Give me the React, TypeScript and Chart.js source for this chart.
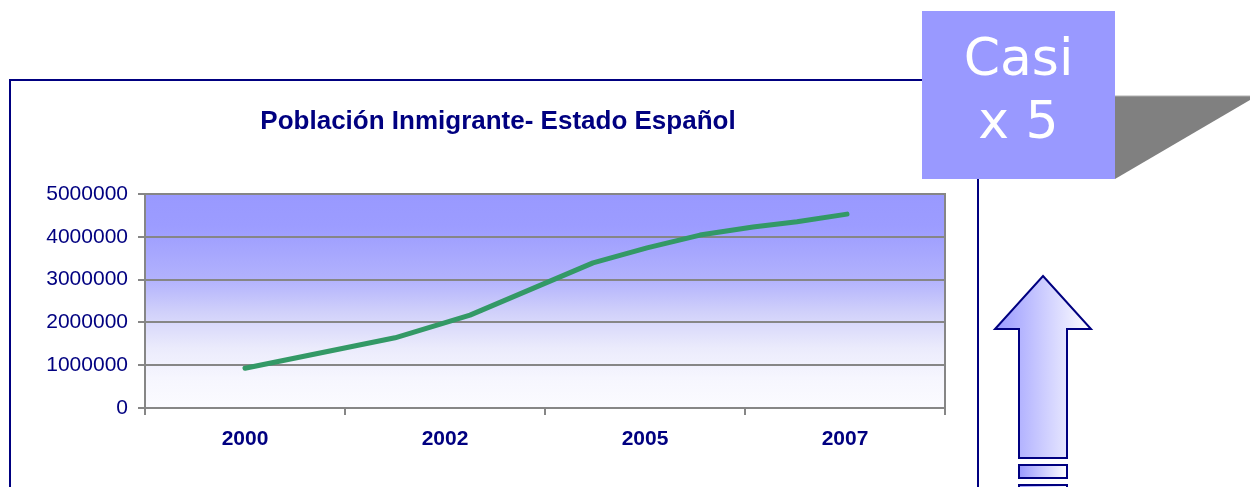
import { useEffect, useRef } from "react";
import { Chart, registerables } from "chart.js";

Chart.register(...registerables);

const categories = ["2000", "2002", "2005", "2007"];
const pointPositions = [0, 0.75, 1.125, 1.74, 2.01, 2.275, 2.54, 2.76, 3.01];
const population = [930000, 1640000, 2170000, 3390000, 3740000, 4040000, 4230000, 4350000, 4530000];
const yTicks = [0, 1000000, 2000000, 3000000, 4000000, 5000000];
const titleText = "Población Inmigrante- Estado Español";
const calloutLines = ["Casi", "x 5"];

const NAVY = "#000080";
const GRID = "#868686";
const FONT = "'Liberation Sans', Arial, sans-serif";

const plotBg = {
  id: "plotBg",
  beforeDraw(chart: any) {
    const { ctx, chartArea: a } = chart;
    if (!a) return;
    const g = ctx.createLinearGradient(0, a.top, 0, a.bottom);
    g.addColorStop(0, "#9999ff");
    g.addColorStop(0.15, "#9c9cff");
    g.addColorStop(0.4, "#b2b2fd");
    g.addColorStop(0.55, "#d0d0fa");
    g.addColorStop(0.72, "#ebebfc");
    g.addColorStop(0.86, "#f6f6fe");
    g.addColorStop(1, "#fbfbff");
    ctx.save();
    ctx.fillStyle = g;
    ctx.fillRect(a.left, a.top, a.right - a.left, a.bottom - a.top);
    ctx.restore();
  },
};

export default function App() {
  const ref = useRef<HTMLCanvasElement | null>(null);

  useEffect(() => {
    if (!ref.current) return;
    const chart = new Chart(ref.current, {
      type: "line",
      data: {
        labels: categories,
        datasets: [
          {
            data: pointPositions.map((x, i) => ({ x, y: population[i] })),
            xAxisID: "xl",
            yAxisID: "y",
            borderColor: "#339966",
            borderWidth: 5,
            borderCapStyle: "round",
            borderJoinStyle: "round",
            pointRadius: 0,
            tension: 0,
            fill: false,
          },
        ],
      },
      options: {
        animation: false,
        responsive: true,
        maintainAspectRatio: false,
        layout: { padding: 0 },
        plugins: {
          legend: { display: false },
          tooltip: { enabled: false },
          title: {
            display: true,
            text: titleText,
            color: NAVY,
            font: { family: FONT, size: 26, weight: "bold" },
            padding: { top: 26.4, bottom: 56.4 },
          },
        },
        scales: {
          x: {
            type: "category",
            position: "bottom",
            offset: true,
            grid: {
              offset: true,
              drawOnChartArea: false,
              drawTicks: true,
              tickLength: 7,
              color: GRID,
              lineWidth: 2,
            },
            border: { display: true, color: GRID, width: 2 },
            ticks: {
              color: NAVY,
              font: { family: FONT, size: 21, weight: "bold" },
              padding: 12,
              maxRotation: 0,
              autoSkip: false,
            },
            afterFit: (s: any) => {
              s.height = 79;
            },
          },
          xl: {
            type: "linear",
            display: false,
            min: -0.5,
            max: 3.5,
          },
          y: {
            type: "linear",
            position: "left",
            min: yTicks[0],
            max: yTicks[yTicks.length - 1],
            afterBuildTicks: (s: any) => {
              s.ticks = yTicks.map((v) => ({ value: v }));
            },
            grid: { color: GRID, lineWidth: 2, tickLength: 7 },
            border: { display: true, color: GRID, width: 2 },
            ticks: {
              color: NAVY,
              font: { family: FONT, size: 21 },
              padding: 10,
              callback: (v: any) => String(v),
            },
            afterFit: (s: any) => {
              s.width = 135;
            },
          },
          yr: {
            type: "linear",
            position: "right",
            grid: { display: false },
            ticks: { display: false },
            border: { display: true, color: GRID, width: 2 },
            afterFit: (s: any) => {
              s.width = 41;
            },
          },
        },
      },
      plugins: [plotBg],
    } as any);
    return () => chart.destroy();
  }, []);

  return (
    <div
      style={{
        position: "fixed",
        left: 0,
        top: 0,
        width: 1250,
        height: 487,
        overflow: "hidden",
        background: "#ffffff",
      }}
    >
      <div
        style={{
          position: "absolute",
          left: 9,
          top: 79,
          width: 970,
          height: 500,
          boxSizing: "border-box",
          border: `2px solid ${NAVY}`,
        }}
      />
      <div style={{ position: "absolute", left: 10, top: 80, width: 976, height: 407 }}>
        <canvas ref={ref} />
      </div>
      <svg
        width={1250}
        height={487}
        style={{ position: "absolute", left: 0, top: 0, pointerEvents: "none" }}
      >
        <defs>
          <linearGradient id="arrowGrad" x1="0" y1="0" x2="1" y2="0">
            <stop offset="0" stopColor="#9999ff" />
            <stop offset="1" stopColor="#ffffff" />
          </linearGradient>
        </defs>
        <polygon points="1115,96 1250,96 1250,100 1115,179" fill="#808080" />
        <line x1="1115" y1="96" x2="1250" y2="96" stroke="#b0b0b0" strokeWidth="1" />
        <rect x="922" y="11" width="193" height="168" fill="#9999ff" />
        <text
          x="1018.5"
          y="75"
          textAnchor="middle"
          fill="#ffffff"
          style={{ font: "52px 'DejaVu Sans', Verdana, sans-serif" }}
        >
          {calloutLines[0]}
        </text>
        <text
          x="1018.5"
          y="138"
          textAnchor="middle"
          fill="#ffffff"
          style={{ font: "52px 'DejaVu Sans', Verdana, sans-serif" }}
        >
          {calloutLines[1]}
        </text>
        <polygon
          points="1043,276 1091,329 1067,329 1067,458 1019,458 1019,329 995,329"
          fill="url(#arrowGrad)"
          stroke={NAVY}
          strokeWidth="2"
          strokeLinejoin="miter"
        />
        <rect x="1019" y="465" width="48" height="13" fill="url(#arrowGrad)" stroke={NAVY} strokeWidth="2" />
        <rect x="1019" y="485" width="48" height="13" fill="url(#arrowGrad)" stroke={NAVY} strokeWidth="2" />
      </svg>
    </div>
  );
}
